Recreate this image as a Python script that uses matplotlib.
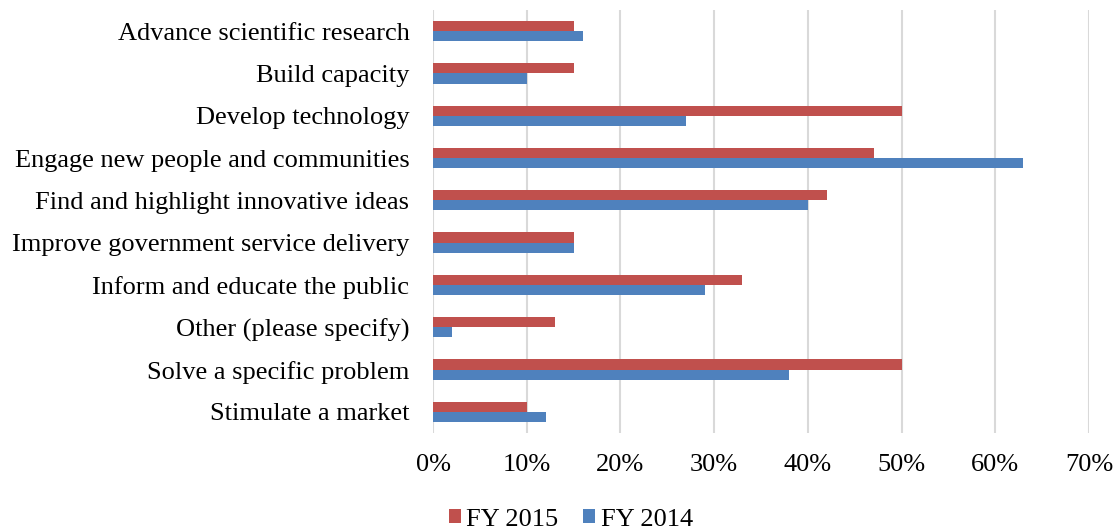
import numpy as np
import matplotlib.pyplot as plt
from matplotlib.ticker import PercentFormatter

categories = [
    "Advance scientific research",
    "Build capacity",
    "Develop technology",
    "Engage new people and communities",
    "Find and highlight innovative ideas",
    "Improve government service delivery",
    "Inform and educate the public",
    "Other (please specify)",
    "Solve a specific problem",
    "Stimulate a market",
]
fy2015 = [15, 15, 50, 47, 42, 15, 33, 13, 50, 10]
fy2014 = [16, 10, 27, 63, 40, 15, 29, 2, 38, 12]

plt.rcParams['font.family'] = ['Liberation Serif', 'DejaVu Serif']

fig = plt.figure(figsize=(11.17, 5.31), dpi=100)
ax = fig.add_axes([0.3877, 0.1846, 0.5873, 0.7966])

y = np.arange(len(categories))
h = 0.24
ax.barh(y - h / 2, fy2015, height=h, color="#C0504D", label="FY 2015", zorder=3)
ax.barh(y + h / 2, fy2014, height=h, color="#4F81BD", label="FY 2014", zorder=3)

ax.set_xlim(0, 70)
ax.set_ylim(len(categories) - 0.5, -0.5)
ax.set_xticks(range(0, 71, 10))
ax.xaxis.set_major_formatter(PercentFormatter(decimals=0))
ax.set_yticks(y)
ax.set_yticklabels(categories)
ax.tick_params(axis='both', length=0, labelsize=19)
ax.tick_params(axis='x', pad=15)
ax.tick_params(axis='y', pad=17)
ax.grid(axis='x', color="#D9D9D9", linewidth=1.5, zorder=0)
for s in ax.spines.values():
    s.set_visible(False)

ax.legend(loc='upper center', bbox_to_anchor=(0.21, -0.135), ncol=2, frameon=False,
          fontsize=19, handlelength=0.45, handleheight=0.45, handletextpad=0.2,
          columnspacing=0.95, borderpad=0.2, bbox_transform=ax.transAxes)

fig.savefig("out.png", dpi=100)
